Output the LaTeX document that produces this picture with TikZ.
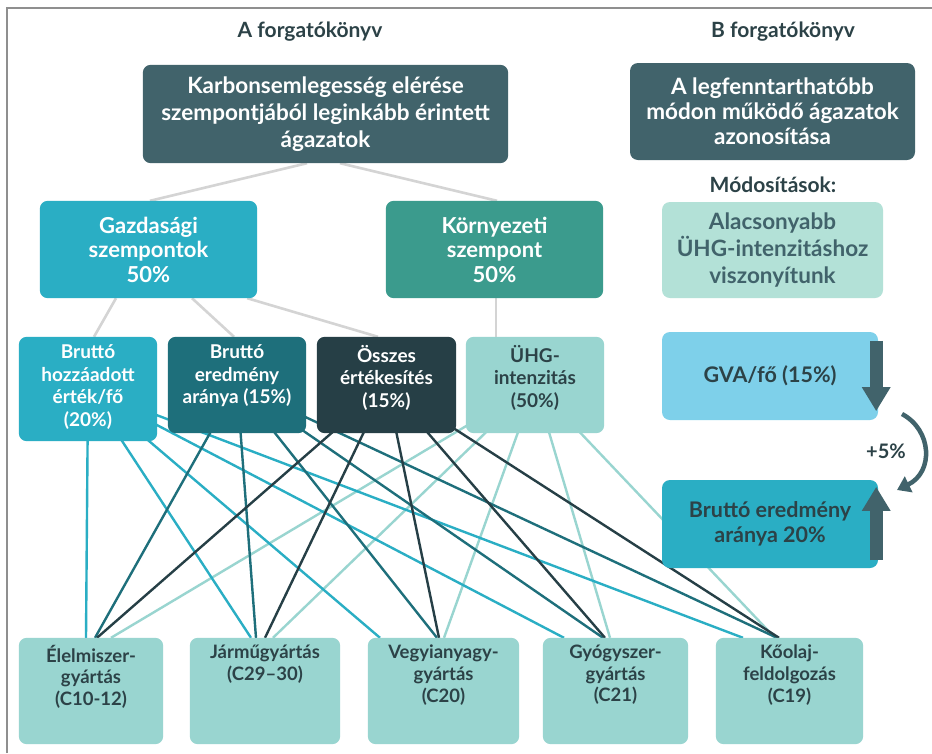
\documentclass[tikz,border=0pt]{standalone}
\usepackage{fontspec}
\setmainfont{Lato}
\usetikzlibrary{arrows.meta}
\definecolor{slate}{HTML}{41636B}
\definecolor{tealblue}{HTML}{2AAEC4}
\definecolor{envgreen}{HTML}{3B9B8D}
\definecolor{mtwo}{HTML}{1E6F7B}
\definecolor{mthree}{HTML}{263F46}
\definecolor{lightteal}{HTML}{99D5D0}
\definecolor{mint}{HTML}{B3E1D7}
\definecolor{sky}{HTML}{7ED0EA}
\definecolor{textdark}{HTML}{2C4247}
\definecolor{greyline}{HTML}{D4D4D4}
\definecolor{framegrey}{HTML}{8F8F8F}
\begin{document}
\begin{tikzpicture}[x=1pt,y=-1pt,
  box/.style={rounded corners=8pt, inner sep=0pt, draw=none, align=center},
  bigtxt/.style={font=\fontsize{22.5}{27}\selectfont\bfseries},
  bxtxt/.style={font=\fontsize{22.5}{25}\selectfont\bfseries},
  rtxt/.style={font=\fontsize{21.5}{25}\selectfont\bfseries},
  midtxt/.style={font=\fontsize{22}{24.5}\selectfont\bfseries},
  smalltxt/.style={font=\fontsize{19}{22.5}\selectfont\bfseries, align=center, inner sep=0pt},
  bottxt/.style={font=\fontsize{18.5}{21.7}\selectfont\bfseries, align=center, inner sep=0pt, text=textdark},
  title/.style={font=\fontsize{21}{24}\selectfont\bfseries, text=textdark, inner sep=0pt},
  gline/.style={draw=greyline, line width=2.6pt},
  cone/.style={draw=tealblue, line width=2.4pt},
  ctwo/.style={draw=mtwo, line width=2.4pt},
  cthree/.style={draw=mthree, line width=2.4pt},
  cfour/.style={draw=lightteal, line width=2.4pt},
  bigarrow/.style={draw=slate, line width=13pt, -{Triangle[width=27pt,length=24pt]}},
]
\useasboundingbox (0,0) rectangle (932,753);
\fill[white] (0,0) rectangle (932,753);
\draw[framegrey, line width=2pt] (7,753) -- (7,8) -- (932,8);

% ---------- box shapes (named, empty) ----------
\node[box, minimum width=365pt, minimum height=98pt] (top) at (325.5,114) {};
\node[box, minimum width=217pt, minimum height=97pt] (gaz) at (148.5,249.5) {};
\node[box, minimum width=217pt, minimum height=97pt] (kor) at (494.5,249.5) {};
\node[box, minimum width=138pt, minimum height=104pt] (m1) at (88,389) {};
\node[box, minimum width=138pt, minimum height=96pt] (m2) at (237,385) {};
\node[box, minimum width=139pt, minimum height=96pt] (m3) at (386.5,385) {};
\node[box, minimum width=138pt, minimum height=96pt] (m4) at (535,385) {};
\node[box, minimum width=144pt, minimum height=106pt] (b1) at (91,691) {};
\node[box, minimum width=150pt, minimum height=106pt] (b2) at (265,691) {};
\node[box, minimum width=151pt, minimum height=106pt] (b3) at (443.5,691) {};
\node[box, minimum width=145pt, minimum height=106pt] (b4) at (615.5,691) {};
\node[box, minimum width=147pt, minimum height=106pt] (b5) at (789.5,691) {};

% ---------- grey connectors ----------
\draw[gline] ([xshift=-18.5pt]top.south) -- ([xshift=1.5pt]gaz.north);
\draw[gline] ([xshift=14.5pt]top.south) -- ([xshift=2.5pt]kor.north);
\draw[gline] ([xshift=-32.5pt]gaz.south) -- ([xshift=6pt]m1.north);
\draw[gline] ([xshift=43.5pt]gaz.south) -- ([xshift=-3pt]m2.north);
\draw[gline] ([xshift=-10pt]gaz.south east) -- ([xshift=-8.5pt]m3.north);
\draw[gline] ([xshift=1.5pt]kor.south) -- ([xshift=-39pt]m4.north);

% ---------- coloured connectors ----------
\draw[cfour] (m4.center) -- ([xshift=20pt]b1.north);
\draw[cfour] (m4.center) -- ([xshift=8pt]b2.north);
\draw[cfour] (m4.center) -- ([xshift=0.5pt]b3.north);
\draw[cfour] (m4.center) -- ([xshift=-5.5pt]b4.north);
\draw[cfour] (m4.center) -- ([xshift=-14.5pt]b5.north);
\draw[cone] (m1.center) -- ([xshift=-5pt]b1.north);
\draw[cone] (m1.center) -- ([xshift=-14pt]b2.north);
\draw[cone] (m1.center) -- ([xshift=-63.5pt]b3.north);
\draw[cone] (m1.center) -- ([xshift=-51.5pt]b4.north);
\draw[cone] (m1.center) -- ([xshift=-46.5pt]b5.north);
\draw[ctwo] (m2.center) -- ([xshift=4pt]b1.north);
\draw[ctwo] (m2.center) -- ([xshift=-9pt]b2.north);
\draw[ctwo] (m2.center) -- ([xshift=-6.5pt]b3.north);
\draw[ctwo] (m2.center) -- ([xshift=-12.5pt]b4.north);
\draw[ctwo] (m2.center) -- ([xshift=-12.5pt]b5.north);
\draw[cthree] (m3.center) -- ([xshift=6pt]b1.north);
\draw[cthree] (m3.center) -- ([xshift=0pt]b2.north);
\draw[cthree] (m3.center) -- ([xshift=-4.5pt]b3.north);
\draw[cthree] (m3.center) -- ([xshift=-10.5pt]b4.north);
\draw[cthree] (m3.center) -- ([xshift=-10.5pt]b5.north);

% ---------- box fills (over connectors) ----------
\fill[slate, rounded corners=8pt] (top.south west) rectangle (top.north east);
\fill[tealblue, rounded corners=8pt] (gaz.south west) rectangle (gaz.north east);
\fill[envgreen, rounded corners=8pt] (kor.south west) rectangle (kor.north east);
\fill[tealblue, rounded corners=8pt] (m1.south west) rectangle (m1.north east);
\fill[mtwo, rounded corners=8pt] (m2.south west) rectangle (m2.north east);
\fill[mthree, rounded corners=8pt] (m3.south west) rectangle (m3.north east);
\fill[lightteal, rounded corners=8pt] (m4.south west) rectangle (m4.north east);
\foreach \b in {b1,b2,b3,b4,b5}
  \fill[lightteal, rounded corners=8pt] (\b.south west) rectangle (\b.north east);

% right column boxes
\node[box, fill=slate, minimum width=285pt, minimum height=97pt, bxtxt, text=white] (bx) at (772.5,111.5)
  {A legfenntarthatóbb\\módon működő ágazatok\\azonosítása};
\node[title] (mod) at (773,185) {Módosítások:};
\node[box, fill=mint, minimum width=221pt, minimum height=96pt, bigtxt, text=slate] (alac) at (772.5,250)
  {Alacsonyabb\\ÜHG-intenzitáshoz\\viszonyítunk};
\node[box, fill=sky, minimum width=216pt, minimum height=88pt, rtxt, text=textdark] (gva) at (770,376)
  {GVA/fő (15\%)};
\node[box, fill=tealblue, minimum width=216pt, minimum height=88pt, rtxt, text=textdark] (bre) at (770,524)
  {Bruttó eredmény\\aránya 20\%};

% titles
\node[title] (ta) at (310,32) {A forgatókönyv};
\node[title] (tb) at (783,32) {B forgatókönyv};

% texts of left boxes
\node[bigtxt, text=white, align=center, inner sep=0pt] (toptxt) at (top.center) {Karbonsemlegesség elérése\\szempontjából leginkább érintett\\ágazatok};
\node[midtxt, text=white, align=center, inner sep=0pt] (gaztxt) at (gaz.center) {Gazdasági\\szempontok\\50\%};
\node[midtxt, text=white, align=center, inner sep=0pt] (kortxt) at (kor.center) {Környezeti\\szempont\\50\%};
\node[smalltxt, text=white, anchor=north] (m1t) at ([yshift=-8pt]m1.north) {Bruttó\\hozzáadott\\érték/fő\\(20\%)};
\node[smalltxt, text=white, anchor=north] (m2t) at ([yshift=-8pt]m2.north) {Bruttó\\eredmény\\aránya (15\%)};
\node[smalltxt, text=white, anchor=north] (m3t) at ([yshift=-8pt]m3.north) {Összes\\értékesítés\\(15\%)};
\node[smalltxt, text=textdark, anchor=north] (m4t) at ([yshift=-8pt]m4.north) {ÜHG-\\intenzitás\\(50\%)};
\node[bottxt, anchor=north] (b1t) at ([yshift=-7pt]b1.north) {Élelmiszer-\\gyártás\\(C10-12)};
\node[bottxt, anchor=north] (b2t) at ([yshift=-7pt]b2.north) {Járműgyártás\\(C29–30)};
\node[bottxt, anchor=north] (b3t) at ([yshift=-7pt]b3.north) {Vegyianyagy-\\gyártás\\(C20)};
\node[bottxt, anchor=north] (b4t) at ([yshift=-7pt]b4.north) {Gyógyszer-\\gyártás\\(C21)};
\node[bottxt, anchor=north] (b5t) at ([yshift=-7pt]b5.north) {Kőolaj-\\feldolgozás\\(C19)};

% arrows at the right
\coordinate (dA) at ([xshift=-2pt]gva.north east);
\coordinate (dB) at ([xshift=-2pt,yshift=9pt]gva.south east);
\draw[bigarrow] ([yshift=-9pt]dA) -- (dB);
\coordinate (uA) at ([xshift=-2pt,yshift=8pt]bre.south east);
\coordinate (uB) at ([xshift=-2pt,yshift=-7pt]bre.north east);
\draw[bigarrow] (uA) -- (uB);
\coordinate (cA) at (902,414);
\coordinate (cB) at (897,490);
\draw[slate, line width=4.5pt, -{Triangle[width=17pt,length=13pt]}] (cA) .. controls (932,430) and (934,472) .. (cB);
\node[font=\fontsize{20}{22}\selectfont\bfseries, text=textdark, inner sep=0pt] (plus) at (886,451) {+5\%};
\end{tikzpicture}
\end{document}
